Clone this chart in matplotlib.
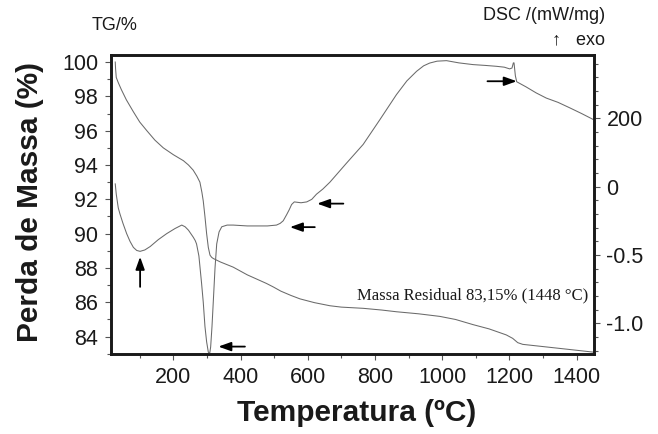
import matplotlib
matplotlib.use("Agg")
import matplotlib.pyplot as plt
from matplotlib.ticker import FixedLocator, MultipleLocator

plt.rcParams['font.family'] = ['Liberation Sans', 'DejaVu Sans']

# TG curve (mass %, left axis)
tg_temp = [27, 28, 30, 36, 45, 60, 81, 100, 121, 145, 170, 200, 230, 245, 259,
           270, 279, 285, 289, 294, 299, 304, 309, 314, 319, 340, 378, 420,
           477, 497, 520, 550, 577, 620, 666, 700, 765, 820, 864, 930, 993,
           1040, 1092, 1140, 1191, 1210, 1225, 1240, 1310, 1380, 1449]
tg_mass = [100.0, 99.6, 99.1, 98.8, 98.4, 97.8, 97.1, 96.5, 96.0, 95.45, 95.0,
           94.6, 94.25, 94.0, 93.7, 93.35, 93.0, 92.4, 91.9, 91.0, 90.0, 89.2,
           88.75, 88.62, 88.55, 88.35, 88.05, 87.6, 87.1, 86.9, 86.65, 86.4,
           86.2, 85.98, 85.8, 85.72, 85.65, 85.55, 85.45, 85.33, 85.18, 85.0,
           84.7, 84.45, 84.1, 83.9, 83.65, 83.55, 83.4, 83.25, 83.1]

# DSC curve (plotted in the chart's shared vertical scale, right axis)
dsc_temp = [27, 30, 36, 41, 50, 61, 71, 81, 91, 101, 115, 131, 155, 180, 205,
            225, 235, 245, 252, 259, 265, 269, 276, 284, 289, 294, 299, 304,
            308, 311, 315, 319, 324, 329, 336, 344, 360, 378, 420, 450, 480,
            507, 518, 527, 537, 545, 552, 560, 580, 597, 612, 626, 645, 666,
            715, 765, 815, 864, 895, 924, 945, 963, 985, 1013, 1050, 1092, 1130,
            1162, 1185, 1201, 1208, 1212, 1214, 1218, 1222, 1250, 1280, 1310,
            1345, 1380, 1415, 1449]
dsc_val = [92.9, 92.3, 91.5, 91.15, 90.6, 90.0, 89.55, 89.2, 89.02, 88.97,
           89.05, 89.25, 89.65, 90.0, 90.3, 90.5, 90.4, 90.2, 90.0, 89.8, 89.6,
           89.4, 88.7, 87.1, 86.0, 84.6, 83.7, 83.1, 83.0, 83.4, 84.6, 86.1,
           88.0, 89.4, 90.1, 90.4, 90.5, 90.5, 90.45, 90.45, 90.45, 90.5, 90.6,
           90.75, 91.1, 91.4, 91.7, 91.85, 91.8, 91.85, 92.0, 92.3, 92.6, 93.0,
           94.1, 95.2, 96.65, 98.1, 98.9, 99.46, 99.78, 99.94, 100.05, 100.08,
           99.95, 99.85, 99.8, 99.75, 99.7, 99.6, 99.65, 99.95, 99.95, 99.2,
           98.85, 98.55, 98.2, 97.9, 97.65, 97.33, 97.0, 96.66]

left_ticks = [84, 86, 88, 90, 92, 94, 96, 98, 100]
x_ticks = [200, 400, 600, 800, 1000, 1200, 1400]
right_tick_pos = [96.72, 92.74, 88.76, 84.78]
right_tick_labels = ['200', '0', '-0.5', '-1.0']

# arrows: (x_tail, y_tail, x_head, y_head)
arrows = [(101, 86.9, 101, 88.65),
          (413, 83.42, 334, 83.42),
          (621, 90.38, 547, 90.38),
          (706, 91.75, 628, 91.75),
          (1135, 98.88, 1222, 98.88)]

fig = plt.figure(figsize=(6.58, 4.34), dpi=100)
ax = fig.add_axes([0.168, 0.1836, 0.9027 - 0.168, 0.8733 - 0.1836])

line_col = '#6a6a6a'
ax.plot(tg_temp, tg_mass, color=line_col, lw=0.75)

ax.set_xlim(13, 1452)
ax.set_ylim(82.97, 100.41)

ax2 = ax.twinx()
ax2.set_ylim(82.97, 100.41)
ax2.plot(dsc_temp, dsc_val, color=line_col, lw=0.75)

for a in (ax, ax2):
    for s in a.spines.values():
        s.set_linewidth(1.9)
        s.set_color('#1a1a1a')

ax.set_yticks(left_ticks)
ax.yaxis.set_minor_locator(MultipleLocator(1))
ax.set_xticks(x_ticks)
ax.xaxis.set_minor_locator(MultipleLocator(100))
ax.tick_params(axis='both', which='major', labelsize=15.5, length=4,
               width=0.8, color='#555555', direction='out', pad=5,
               labelcolor='#1a1a1a')
ax.tick_params(axis='both', which='minor', length=3, width=0.8,
               color='#555555', direction='out')

ax2.yaxis.set_major_locator(FixedLocator(right_tick_pos))
ax2.set_yticklabels(right_tick_labels)
step = (right_tick_pos[0] - right_tick_pos[1]) / 5.0
minor = [right_tick_pos[-1] + step * k for k in range(-2, 25)]
ax2.yaxis.set_minor_locator(FixedLocator(minor))
ax2.tick_params(axis='y', which='major', labelsize=15.5, length=4,
                width=0.8, color='#555555', direction='out', pad=5,
                labelcolor='#1a1a1a')
ax2.tick_params(axis='y', which='minor', length=3, width=0.8,
                color='#555555', direction='out')

for (x0, y0, x1, y1) in arrows:
    ax.annotate('', xy=(x1, y1), xytext=(x0, y0),
                arrowprops=dict(arrowstyle='-|>,head_length=0.75,head_width=0.27',
                                color='black', lw=1.3, shrinkA=0, shrinkB=0))

ax.text(1434, 86.43, 'Massa Residual 83,15% (1448 °C)', ha='right', va='center',
        fontsize=12, family=['Liberation Serif', 'DejaVu Serif'], color='#1a1a1a')

fig.text(114.5 / 658, 1 - 25 / 434, 'TG/%', ha='center', va='center', fontsize=13,
         color='#1a1a1a')
fig.text(605 / 658, 1 - 15 / 434, 'DSC /(mW/mg)', ha='right', va='center',
         fontsize=13, color='#1a1a1a')
fig.text(605 / 658, 1 - 40 / 434, '↑   exo', ha='right', va='center', fontsize=13,
         color='#1a1a1a')

fig.text(30 / 658, 1 - 202 / 434, 'Perda de Massa (%)', rotation=90, ha='center',
         va='center', fontsize=21.5, fontweight='bold', color='#1a1a1a')
fig.text(356.5 / 658, 1 - 413 / 434, 'Temperatura (ºC)', ha='center', va='center',
         fontsize=21.5, fontweight='bold', color='#1a1a1a')

fig.savefig('out.png', dpi=100)
